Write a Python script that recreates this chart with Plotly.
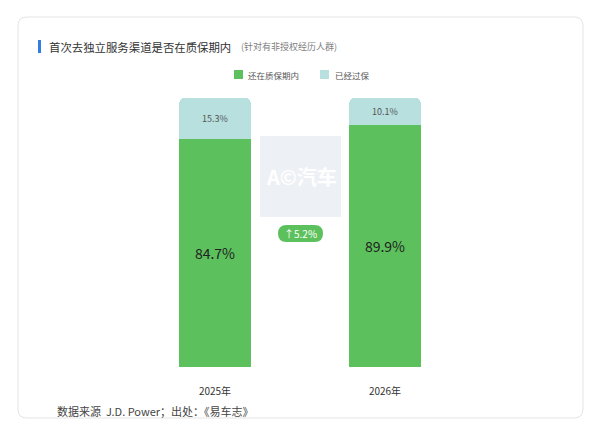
import plotly.graph_objects as go

categories = ["2025年", "2026年"]
in_warranty = [84.7, 89.9]
out_warranty = [15.3, 10.1]
change_label = "↑5.2%"

GREEN = "#5cc15c"
TEAL = "#b7e0de"

OFF = 8  # page body margin
W, H = 600 - OFF, 435 - OFF
# plot area in page pixels: x 130..470, y 98..367
L, R, T, B = 130 - OFF, 130, 98 - OFF, 68
PW = W - L - R
PH = H - T - B

def px(x):
    return (x - OFF - L) / PW

def py(y):
    return (H - B - (y - OFF)) / PH

fig = go.Figure()
fig.add_trace(go.Bar(
    x=categories, y=in_warranty, name="还在质保期内",
    marker=dict(color=GREEN, line=dict(width=0)),
    text=[f"{v}%" for v in in_warranty], textposition="inside",
    insidetextanchor="middle",
    textfont=dict(size=14, color="#222222", family="Noto Sans CJK SC"),
    width=0.42, hoverinfo="skip",
))
fig.add_trace(go.Bar(
    x=categories, y=out_warranty, name="已经过保",
    marker=dict(color=TEAL, line=dict(width=0)),
    text=[f"{v}%" for v in out_warranty], textposition="inside",
    insidetextanchor="middle",
    textfont=dict(size=9, color="#555555", family="Noto Sans CJK SC"),
    width=0.42, hoverinfo="skip",
))

def rrect(x0, y0, x1, y1, r):
    def P(x, y):
        return f"{px(x):.5f},{py(y):.5f}"
    return (f"M {P(x0 + r, y0)} L {P(x1 - r, y0)} Q {P(x1, y0)} {P(x1, y0 + r)} "
            f"L {P(x1, y1 - r)} Q {P(x1, y1)} {P(x1 - r, y1)} "
            f"L {P(x0 + r, y1)} Q {P(x0, y1)} {P(x0, y1 - r)} "
            f"L {P(x0, y0 + r)} Q {P(x0, y0)} {P(x0 + r, y0)} Z")

shapes = [
    dict(type="path", xref="paper", yref="paper", path=rrect(18, 17, 583, 418, 9),
         line=dict(color="#e4e4e4", width=1), fillcolor="rgba(0,0,0,0)", layer="below"),
    dict(type="rect", xref="paper", yref="paper", x0=px(38), x1=px(41), y0=py(40), y1=py(53),
         line=dict(width=0), fillcolor="#2f7fe0"),
    dict(type="rect", xref="paper", yref="paper", x0=px(260), x1=px(341), y0=py(217), y1=py(136),
         line=dict(width=0), fillcolor="#edf1f6", layer="below"),
    dict(type="path", xref="paper", yref="paper", path=rrect(278, 225, 323, 242, 8.5),
         line=dict(width=0), fillcolor=GREEN),
    dict(type="rect", xref="paper", yref="paper", x0=px(234), x1=px(243), y0=py(70), y1=py(79),
         line=dict(width=0), fillcolor=GREEN),
    dict(type="rect", xref="paper", yref="paper", x0=px(320), x1=px(329), y0=py(70), y1=py(79),
         line=dict(width=0), fillcolor=TEAL),
]

def A(x, y, text, size, color, xanchor="left"):
    return dict(x=px(x), y=py(y), xref="paper", yref="paper", text=text, showarrow=False,
                xanchor=xanchor, yanchor="middle",
                font=dict(size=size, color=color, family="Noto Sans CJK SC"))

ann = [
    A(47, 46.5, "首次去独立服务渠道是否在质保期内", 11.4, "#333333"),
    A(239, 46.5, "(针对有非授权经历人群)", 9, "#808080"),
    A(246, 74.5, "还在质保期内", 8.5, "#555555"),
    A(333, 74.5, "已经过保", 8.5, "#555555"),
    A(301, 176.5, "<b>A©汽车</b>", 20, "#ffffff", "center"),
    A(300.5, 233.5, change_label, 10, "#ffffff", "center"),
    A(55, 411, "数据来源  J.D. Power；出处：《易车志》", 11, "#444444"),
]

fig.update_layout(
    width=W, height=H,
    margin=dict(l=L, r=R, t=T, b=B),
    barmode="stack", barcornerradius=5,
    showlegend=False,
    paper_bgcolor="#ffffff", plot_bgcolor="#ffffff",
    xaxis=dict(range=[-0.5, 1.5], showgrid=False, zeroline=False, showline=False,
               ticks="", tickfont=dict(size=10, color="#333333", family="Noto Sans CJK SC"),
               ticklabelstandoff=17),
    yaxis=dict(range=[0, 100], visible=False),
    shapes=shapes, annotations=ann,
)

fig.write_html("out.html")
